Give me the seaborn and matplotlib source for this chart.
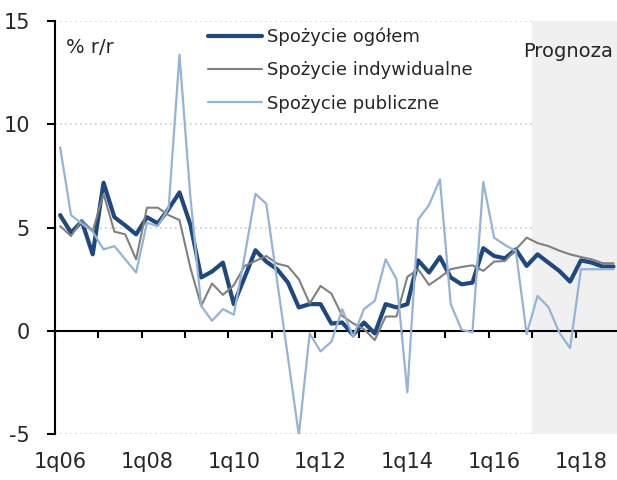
import numpy as np
import pandas as pd
import matplotlib
matplotlib.use('Agg')
import matplotlib.pyplot as plt
import seaborn as sns

# quarterly data, 1q06 .. 4q18 (% r/r)
spozycie_ogolem = [5.6, 4.75, 5.3, 3.7, 7.17, 5.5, 5.1, 4.67, 5.5, 5.2,
                   5.9, 6.7, 5.15, 2.58, 2.87, 3.3, 1.29, 2.58, 3.9, 3.35,
                   2.98, 2.33, 1.13, 1.29, 1.29, 0.35, 0.4, -0.2, 0.4, -0.13,
                   1.29, 1.13, 1.29, 3.41, 2.82, 3.57, 2.58, 2.25, 2.33, 4.0,
                   3.62, 3.51, 3.94, 3.14, 3.7, 3.3, 2.9, 2.38, 3.41, 3.3,
                   3.11, 3.11]
spozycie_indywidualne = [5.07, 4.59, 5.36, 4.83, 6.63, 4.8, 4.67, 3.46, 5.96, 5.96,
                         5.6, 5.36, 3.06, 1.21, 2.29, 1.74, 2.2, 3.14, 3.38, 3.62,
                         3.25, 3.12, 2.5, 1.32, 2.17, 1.8, 0.72, 0.36, 0.08, -0.45,
                         0.69, 0.69, 2.61, 2.98, 2.22, 2.58, 2.98, 3.09, 3.17, 2.9,
                         3.35, 3.38, 3.94, 4.51, 4.25, 4.1, 3.88, 3.7, 3.57, 3.46,
                         3.27, 3.27]
spozycie_publiczne = [8.88, 5.6, 5.19, 4.8, 3.94, 4.1, 3.46, 2.82, 5.23, 5.07,
                      5.96, 13.37, 6.5, 1.21, 0.48, 1.05, 0.78, 3.6, 6.63, 6.15,
                      2.4, -1.3, -5.05, -0.13, -1.0, -0.53, 1.05, -0.3, 1.05, 1.45,
                      3.46, 2.5, -2.98, 5.39, 6.09, 7.33, 1.29, 0.05, -0.08, 7.21,
                      4.51, 4.15, 3.86, -0.16, 1.69, 1.15, -0.08, -0.84, 2.98, 2.98,
                      2.98, 2.98]
tick_labels = ['1q06', '1q08', '1q10', '1q12', '1q14', '1q16', '1q18']
forecast_start = 44  # first forecast quarter (1q17)

sns.set_style('white')
plt.rcParams['font.family'] = ['DejaVu Sans']

df = pd.DataFrame({
    'q': np.arange(len(spozycie_ogolem)),
    'ogolem': spozycie_ogolem,
    'indywidualne': spozycie_indywidualne,
    'publiczne': spozycie_publiczne,
})

fig = plt.figure(figsize=(6.17, 4.8), dpi=100)
ax = fig.add_axes([0.0887, 0.0958, 0.9113, 0.8604])

n = len(df)
xmax = -0.5 + 562.3 / 10.85
ax.set_xlim(-0.5, xmax)
ax.set_ylim(-5, 15)

# forecast area
ax.axvspan(forecast_start - 0.5, xmax, color='#f0f0f0', lw=0, zorder=1)

sns.lineplot(data=df, x='q', y='ogolem', color='#1f497d', linewidth=3.0,
             label='Spożycie ogółem', ax=ax, zorder=3)
sns.lineplot(data=df, x='q', y='indywidualne', color='#808080', linewidth=1.5,
             label='Spożycie indywidualne', ax=ax, zorder=3)
sns.lineplot(data=df, x='q', y='publiczne', color='#95b3d7', linewidth=1.6,
             label='Spożycie publiczne', ax=ax, zorder=3)

# grid
ax.set_axisbelow(True)
ax.yaxis.grid(True, linestyle=(0, (1, 2)), color='#d0d0d0', linewidth=1.2)
ax.xaxis.grid(False)

# spines / ticks
for s in ['top', 'right', 'bottom']:
    ax.spines[s].set_visible(False)
ax.spines['left'].set_color('black')
ax.spines['left'].set_linewidth(1.5)
ax.set_yticks([-5, 0, 5, 10, 15])
ax.set_yticklabels(['-5', '0', '5', '10', '15'])
ax.tick_params(axis='y', direction='out', length=6, width=1.5, color='black',
               labelsize=15, pad=12, left=True)
ax.set_xticks(np.arange(0, n, 8))
ax.set_xticklabels(tick_labels)
ax.tick_params(axis='x', length=0, labelsize=15, pad=13)
ax.set_xlabel('')
ax.set_ylabel('')

# zero line with year ticks
sec = ax.secondary_xaxis((0 - (-5)) / 20)
sec.set_zorder(2)
sec.set_xticks(np.arange(-0.5, n, 4))
sec.tick_params(direction='out', length=5, width=1.5, color='black', labelbottom=False)
sec.spines['bottom'].set_linewidth(1.5)
sec.spines['bottom'].set_color('black')

ax.text(0.02, 0.937, '% r/r', transform=ax.transAxes, fontsize=14,
        ha='left', va='center')
ax.text(0.913, 0.925, 'Prognoza', transform=ax.transAxes, fontsize=14,
        ha='center', va='center')

ax.legend(loc='upper left', bbox_to_anchor=(0.26, 1.002), frameon=False,
          fontsize=13, handlelength=3.0, handletextpad=0.25, labelspacing=0.85,
          borderaxespad=0)

plt.savefig('out.png', dpi=100)
